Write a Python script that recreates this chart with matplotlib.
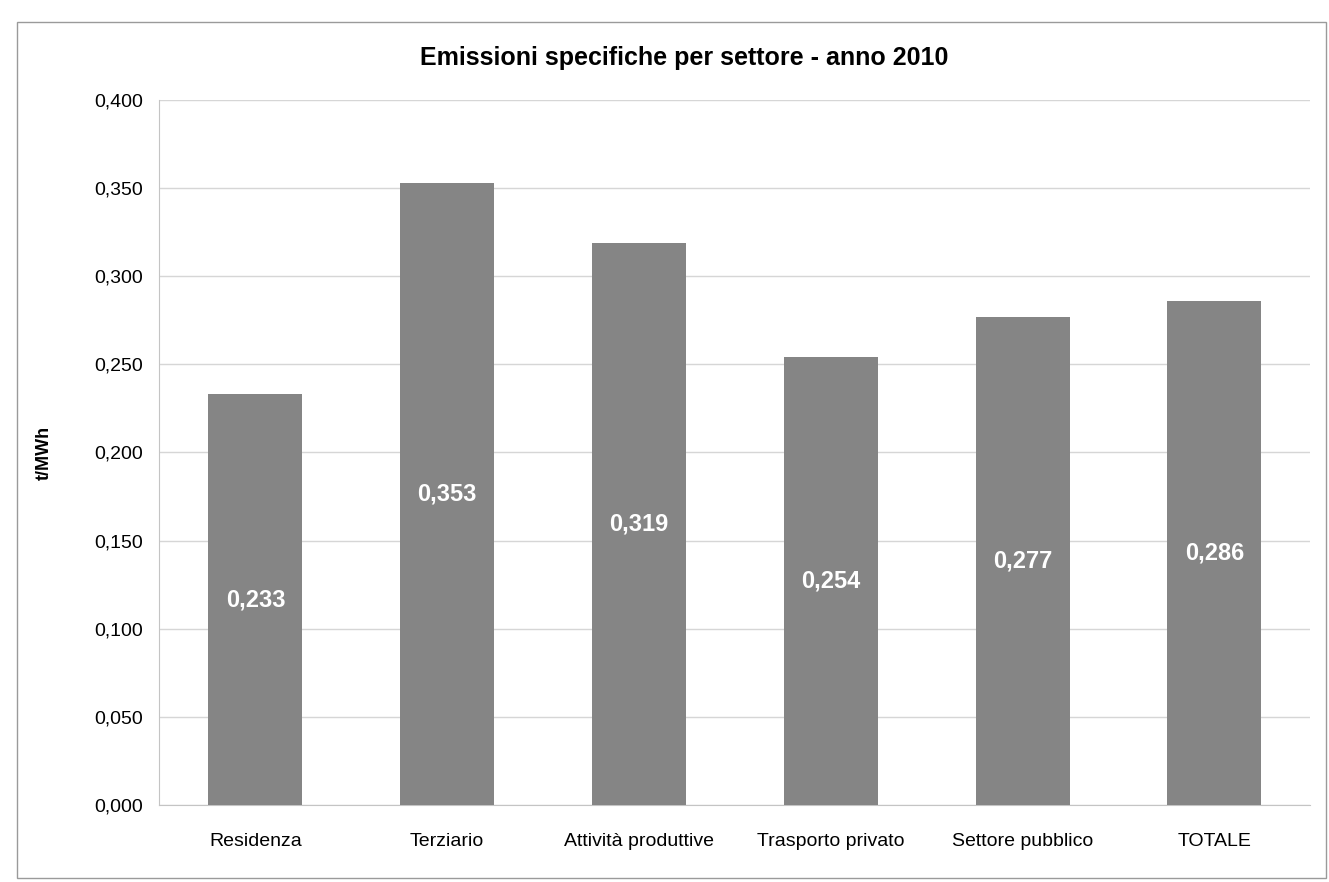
import matplotlib
matplotlib.use("Agg")
import matplotlib.pyplot as plt
from matplotlib.patches import Rectangle

# data
settori = ["Residenza", "Terziario", "Attività produttive", "Trasporto privato",
           "Settore pubblico", "TOTALE"]
emissioni = [0.233, 0.353, 0.319, 0.254, 0.277, 0.286]
y_ticks = [0.0, 0.05, 0.1, 0.15, 0.2, 0.25, 0.3, 0.35, 0.4]

plt.rcParams['font.family'] = ['Liberation Sans', 'DejaVu Sans']

fig = plt.figure(figsize=(13.29, 8.82), dpi=100)
ax = fig.add_axes([0.120, 0.087, 0.866, 0.800])

x = range(len(settori))
bars = ax.bar(x, emissioni, width=0.49, color='#858585', zorder=3)

for b, v in zip(bars, emissioni):
    ax.text(b.get_x() + b.get_width() / 2, v / 2, f"{v:.3f}".replace('.', ','),
            ha='center', va='center', color='white', fontsize=17, fontweight='bold', zorder=4)

ax.set_xlim(-0.5, len(settori) - 0.5)
ax.set_ylim(0, 0.4)
ax.set_yticks(y_ticks)
ax.set_yticklabels([f"{t:.3f}".replace('.', ',') for t in y_ticks], fontsize=14)
ax.set_xticks(list(x))
ax.set_xticklabels(settori, fontsize=14)
ax.tick_params(axis='y', length=0, pad=12)
ax.tick_params(axis='x', length=0, pad=20)
ax.yaxis.grid(True, color='#d6d6d6', linewidth=1, zorder=0)

for s in ['top', 'right']:
    ax.spines[s].set_visible(False)
ax.spines['left'].set_color('#c4c4c4')
ax.spines['bottom'].set_color('#c4c4c4')

ax.set_ylabel("t/MWh", fontsize=13, fontweight='bold', labelpad=30)
fig.text(0.515, 0.934, "Emissioni specifiche per settore - anno 2010",
         ha='center', va='center', fontsize=18, fontweight='bold')

fig.patches.append(Rectangle((0.013, 0.005), 0.985, 0.97, transform=fig.transFigure,
                             fill=False, edgecolor='#9a9a9a', linewidth=1))

fig.savefig("out.png", dpi=100)
